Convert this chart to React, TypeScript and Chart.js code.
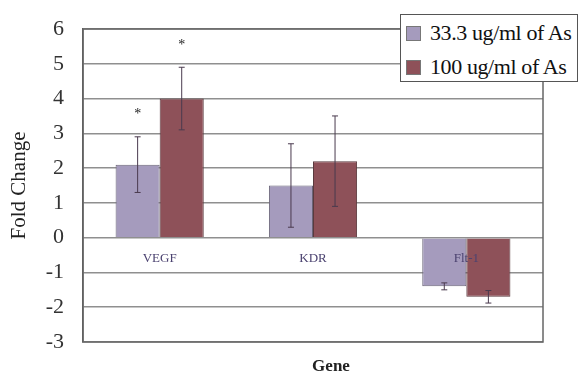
import React, { useEffect, useRef } from "react";
import { Chart, registerables } from "chart.js";

Chart.register(...registerables);

const categories = ["VEGF", "KDR", "Flt-1"];
const seriesLabels = ["33.3 ug/ml of As", "100 ug/ml of As"];
const lowDose = [2.1, 1.5, -1.4];
const highDose = [4.0, 2.2, -1.7];
const lowErr = [0.8, 1.2, 0.1];
const highErr = [0.9, 1.3, 0.18];
const lowStars = ["*", "", ""];
const highStars = ["*", "", ""];
const yTicks = [-3, -2, -1, 0, 1, 2, 3, 4, 5, 6];
const yTitle = "Fold Change";
const xTitle = "Gene";

const PURPLE = "#a59bbd";
const RED = "#8e5159";
const SERIF = "'Liberation Serif', 'DejaVu Serif', serif";

const overlayPlugin = {
  id: "overlay",
  afterDatasetsDraw(chart: any) {
    const { ctx, chartArea, scales } = chart;
    const x = scales.x;
    const y = scales.y;
    const errs = [lowErr, highErr];
    const stars = [lowStars, highStars];
    ctx.save();
    // error bars
    chart.data.datasets.forEach((ds: any, di: number) => {
      const meta = chart.getDatasetMeta(di);
      meta.data.forEach((bar: any, i: number) => {
        const v = ds.data[i];
        const e = errs[di][i];
        const cx = bar.x;
        const top = y.getPixelForValue(v + e);
        const bot = y.getPixelForValue(v - e);
        ctx.strokeStyle = "#4a3a4e";
        ctx.lineWidth = 1;
        ctx.beginPath();
        ctx.moveTo(cx, top);
        ctx.lineTo(cx, bot);
        ctx.moveTo(cx - 3, top);
        ctx.lineTo(cx + 3, top);
        ctx.moveTo(cx - 3, bot);
        ctx.lineTo(cx + 3, bot);
        ctx.stroke();
        const s = stars[di][i];
        if (s) {
          ctx.fillStyle = "#222";
          ctx.font = `14px ${SERIF}`;
          ctx.textAlign = "center";
          ctx.textBaseline = "middle";
          ctx.fillText(s, cx, top - 22);
        }
      });
    });
    // category labels
    ctx.fillStyle = "#4b4270";
    ctx.font = `13px ${SERIF}`;
    ctx.textAlign = "center";
    ctx.textBaseline = "middle";
    const y0 = y.getPixelForValue(0);
    categories.forEach((c, i) => {
      ctx.fillText(c, x.getPixelForValue(i), y0 + 21);
    });
    // frame
    ctx.strokeStyle = "#666";
    ctx.lineWidth = 1.5;
    ctx.strokeRect(chartArea.left, chartArea.top, chartArea.right - chartArea.left, chartArea.bottom - chartArea.top);
    // x title
    ctx.fillStyle = "#222";
    ctx.font = `bold 17px ${SERIF}`;
    ctx.fillText(xTitle, (chartArea.left + chartArea.right) / 2 + 18, chartArea.bottom + 25);
    ctx.restore();
  },
};

export default function App() {
  const ref = useRef<HTMLCanvasElement | null>(null);
  useEffect(() => {
    if (!ref.current) return;
    const chart = new Chart(ref.current, {
      type: "bar",
      data: {
        labels: categories,
        datasets: [
          { label: seriesLabels[0], data: lowDose, backgroundColor: PURPLE, borderColor: "#6a6478", borderWidth: 1 },
          { label: seriesLabels[1], data: highDose, backgroundColor: RED, borderColor: "#5a3a3e", borderWidth: 1 },
        ],
      },
      options: {
        responsive: false,
        animation: false,
        layout: { padding: { left: 0, top: 29, right: 36, bottom: 34 } },
        plugins: { legend: { display: false }, tooltip: { enabled: false } },
        datasets: { bar: { categoryPercentage: 0.575, barPercentage: 1 } },
        scales: {
          x: { display: false },
          y: {
            min: -3,
            max: 6,
            afterFit: (s: any) => { s.width = 83; s.paddingTop = 0; s.paddingBottom = 0; },
            afterBuildTicks: (s: any) => { s.ticks = yTicks.map((v) => ({ value: v })); },
            ticks: { font: { family: SERIF, size: 22 }, color: "#333", padding: 19 },
            grid: { color: "#8f8f8f", lineWidth: 1.5, drawTicks: false },
            border: { display: true, color: "#555", width: 1.5 },
            title: { display: true, text: yTitle, font: { family: SERIF, size: 21 }, color: "#222", padding: { top: 7, bottom: 0 } },
          },
        },
      },
      plugins: [overlayPlugin],
    });
    return () => chart.destroy();
  }, []);

  return (
    <div style={{ position: "fixed", left: 0, top: 0, width: 579, height: 376, background: "#fff" }}>
      <canvas ref={ref} width={579} height={376} style={{ display: "block" }} />
      <div
        style={{
          position: "absolute",
          left: 400,
          top: 14,
          width: 178,
          height: 68,
          border: "1px solid #555",
          background: "#fff",
          fontFamily: SERIF,
          fontSize: 22,
          color: "#111",
          boxSizing: "border-box",
          paddingTop: 1,
          overflow: "hidden",
          whiteSpace: "nowrap",
        }}
      >
        {seriesLabels.map((l, i) => (
          <div key={l} style={{ display: "flex", alignItems: "center", height: 34 }}>
            <span style={{ display: "inline-block", flex: "none", width: 15, height: 15, marginLeft: 5, marginRight: 9, background: i === 0 ? PURPLE : RED, border: "1px solid #777", boxSizing: "border-box" }} />
            <span style={{ letterSpacing: -0.4 }}>{l}</span>
          </div>
        ))}
      </div>
    </div>
  );
}
